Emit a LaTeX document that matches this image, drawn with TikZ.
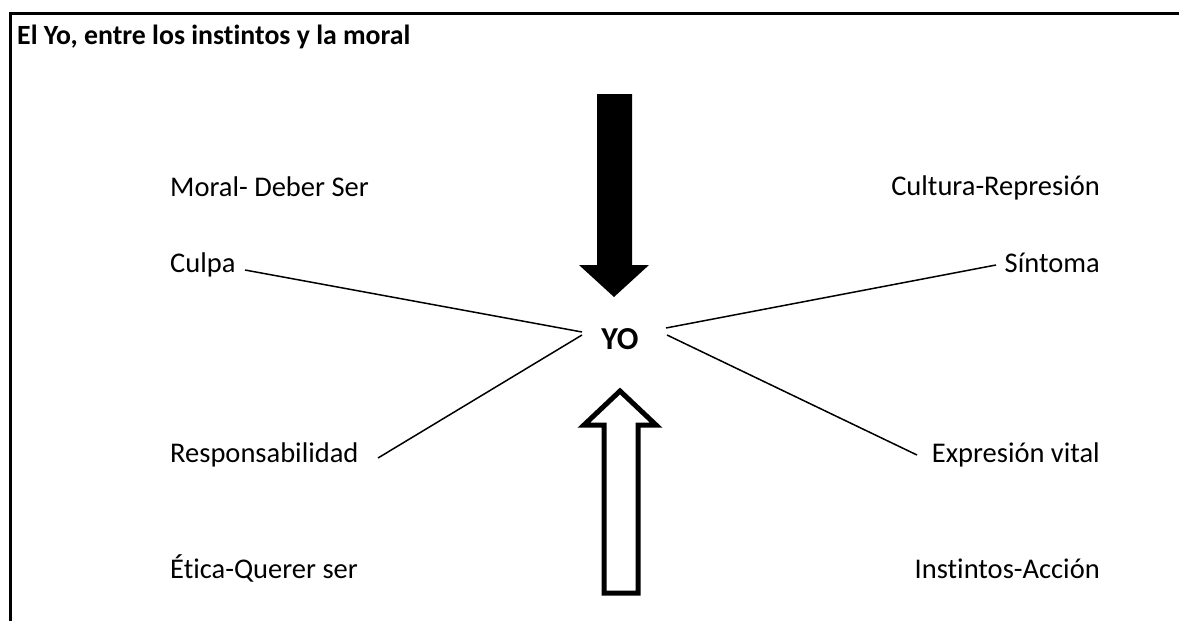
\documentclass[tikz,border=0pt]{standalone}
\usepackage{fontspec}
\setmainfont{Carlito}[Ligatures=CommonOff]
\begin{document}
\begin{tikzpicture}[x=1pt,y=-1pt,
  lbl/.style={inner sep=0pt,font=\fontsize{28.5}{34}\selectfont},
  lblL/.style={lbl,anchor=base west},
  lblR/.style={lbl,anchor=base east},
  conn/.style={line width=1.5pt},
  frame/.style={line width=3pt,line join=miter}]
\useasboundingbox (0,0) rectangle (1179,621);
% frame
\draw[frame] (1179,13.5) -| (10.5,621);
% title
\node[inner sep=0pt,anchor=base west,font=\fontsize{27.8}{33}\selectfont\bfseries] (title) at (17,44) {El Yo, entre los instintos y la moral};
% labels left
\node[lblL] (moral) at (170,196) {Moral- Deber Ser};
\node[lblL] (culpa) at (170,272) {Culpa};
\node[lblL] (resp) at (170,462) {Responsabilidad};
\node[lblL] (etica) at (170,578) {Ética-Querer ser};
% labels right
\node[lblR] (cultura) at (1100,195) {Cultura-Represión};
\node[lblR] (sintoma) at (1100,272) {Síntoma};
\node[lblR] (expr) at (1100,462) {Expresión vital};
\node[lblR] (inst) at (1100,578) {Instintos-Acción};
% YO
\node[inner sep=0pt,anchor=base,font=\fontsize{32}{38}\selectfont\bfseries] (yo) at (620,349) {YO};
% connector endpoints
\coordinate (cA) at (245,270);
\coordinate (yoL1) at (582,332);
\coordinate (cB) at (378,458);
\coordinate (yoL2) at (582,335);
\coordinate (cC) at (996,265);
\coordinate (yoR1) at (666,328);
\coordinate (cD) at (917,455);
\coordinate (yoR2) at (667,335);
\draw[conn] (cA) -- (yoL1);
\draw[conn] (cB) -- (yoL2);
\draw[conn] (cC) -- (yoR1);
\draw[conn] (cD) -- (yoR2);
% down arrow (filled)
\fill[black] (597,94) -- (632,94) -- (632,265) -- (649,265) -- (614,297) -- (579,265) -- (597,265) -- cycle;
% up arrow (outlined)
\draw[line width=5pt,line join=miter,fill=white] (620,391) -- (656,425) -- (638,425) -- (638,593) -- (604,593) -- (604,425) -- (584,425) -- cycle;
\end{tikzpicture}
\end{document}
